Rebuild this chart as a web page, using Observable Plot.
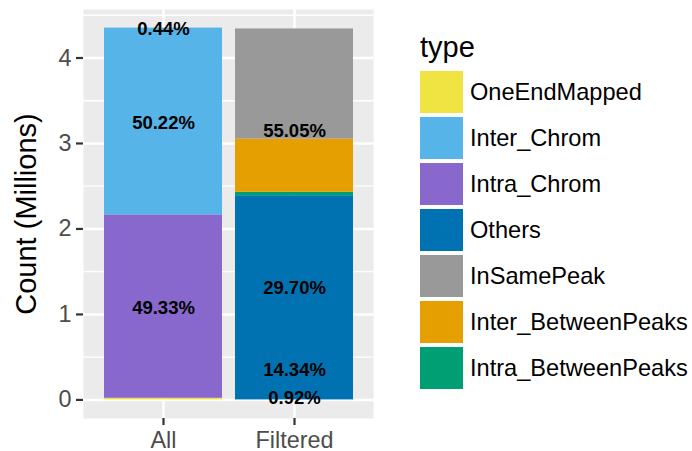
<!DOCTYPE html>
<html>
<head>
<meta charset="utf-8">
<script src="https://cdn.jsdelivr.net/npm/d3@7"></script>
<script src="https://cdn.jsdelivr.net/npm/@observablehq/plot@0.6"></script>
<style>
  body { margin: 0; background: #fff; }
  #wrap { position: relative; width: 692px; height: 451px; font-family: "Liberation Sans", Arial, sans-serif; }
  #legend { position: absolute; left: 0; top: 0; }
  .ltitle { position: absolute; left: 420px; top: 30px; font-size: 29px; line-height: 34px; color: #000; }
  .lkey { position: absolute; left: 420px; width: 43px; height: 42px; }
  .llab { position: absolute; left: 470px; font-size: 23.6px; line-height: 42px; height: 42px; color: #000; white-space: nowrap; }
</style>
</head>
<body>
<div id="wrap"></div>
<script>
const groups = ["All", "Filtered"];
const types = ["OneEndMapped", "Inter_Chrom", "Intra_Chrom", "Others", "InSamePeak", "Inter_BetweenPeaks", "Intra_BetweenPeaks"];
const colors = ["#F0E442", "#56B4E9", "#8968CD", "#0072B2", "#999999", "#E69F00", "#009E73"];

// bar segments, bottom to top (millions)
const allTypes = ["OneEndMapped", "Intra_Chrom", "Inter_Chrom"];
const allValues = [0.019, 2.146, 2.185];
const allPct = [0.44, 49.33, 50.22];
const filteredTypes = ["Others", "Intra_BetweenPeaks", "Inter_BetweenPeaks", "InSamePeak"];
const filteredValues = [2.389, 0.040, 0.622, 1.289];
const filteredPct = [55.05, 0.92, 14.34, 29.70];

// order in which the percentage labels were stacked in the original
const allLabelOrder = ["Intra_Chrom", "Inter_Chrom", "OneEndMapped"];
const filteredLabelOrder = ["Intra_BetweenPeaks", "Inter_BetweenPeaks", "InSamePeak", "Others"];

const yMajor = [0, 1, 2, 3, 4];
const yMinor = [0.5, 1.5, 2.5, 3.5, 4.5];
const yTitle = "Count (Millions)";

const rows = [
  ...allTypes.map((t, i) => ({group: "All", type: t, value: allValues[i], pct: allPct[i]})),
  ...filteredTypes.map((t, i) => ({group: "Filtered", type: t, value: filteredValues[i], pct: filteredPct[i]}))
];

function labelRows(group, order) {
  let cum = 0;
  return order.map(t => {
    const r = rows.find(d => d.group === group && d.type === t);
    const pos = cum + r.value / 2;
    cum += r.value;
    return {group, pos, label: r.pct.toFixed(2) + "%"};
  });
}
const labels = [...labelRows("All", allLabelOrder), ...labelRows("Filtered", filteredLabelOrder)];

const maxTotal = d3.max(groups, g => d3.sum(rows.filter(d => d.group === g), d => d.value));
const pad = maxTotal * 0.05;

const font = "Liberation Sans, Arial, sans-serif";

const chart = Plot.plot({
  width: 692,
  height: 451,
  marginLeft: 83,
  marginRight: 319,
  marginTop: 9,
  marginBottom: 33,
  style: {fontFamily: font, background: "transparent"},
  x: {type: "band", domain: groups, paddingInner: 0.1, paddingOuter: 0.15, label: null},
  y: {domain: [-pad, maxTotal + pad], label: null},
  color: {domain: types, range: colors},
  marks: [
    Plot.frame({fill: "#EBEBEB", stroke: null}),
    Plot.gridY(yMinor, {stroke: "white", strokeOpacity: 1, strokeWidth: 1.3}),
    Plot.gridY(yMajor, {stroke: "white", strokeOpacity: 1, strokeWidth: 2.5}),
    Plot.gridX(groups, {stroke: "white", strokeOpacity: 1, strokeWidth: 2.5}),
    Plot.barY(rows, {x: "group", y: "value", fill: "type"}),
    Plot.text(labels, {x: "group", y: "pos", text: "label", fontWeight: "bold", fontSize: 18.5, fill: "black"}),
    Plot.axisY(yMajor, {
      tickSize: 7, tickPadding: 5, fontSize: 23.4, stroke: "#333333", fill: "#4d4d4d", strokeWidth: 2.2,
      tickFormat: d3.format("d"), label: null
    }),
    Plot.text([yTitle], {
      frameAnchor: "left", textAnchor: "middle", dx: -48, rotate: -90, lineAnchor: "bottom", text: d => d,
      fontSize: 29, fill: "black"
    }),
    Plot.axisX({tickSize: 7, tickPadding: 6, fontSize: 23.4, stroke: "#333333", fill: "#4d4d4d", strokeWidth: 2.2, label: null})
  ]
});

const wrap = document.getElementById("wrap");
wrap.appendChild(chart);

const legend = document.createElement("div");
legend.id = "legend";
const title = document.createElement("div");
title.className = "ltitle";
title.textContent = "type";
legend.appendChild(title);
types.forEach((t, i) => {
  const key = document.createElement("div");
  key.className = "lkey";
  key.style.top = (71 + i * 46) + "px";
  key.style.background = chart.scale("color").apply(t);
  legend.appendChild(key);
  const lab = document.createElement("div");
  lab.className = "llab";
  lab.style.top = (71 + i * 46) + "px";
  lab.textContent = t;
  legend.appendChild(lab);
});
wrap.appendChild(legend);
</script>
</body>
</html>
